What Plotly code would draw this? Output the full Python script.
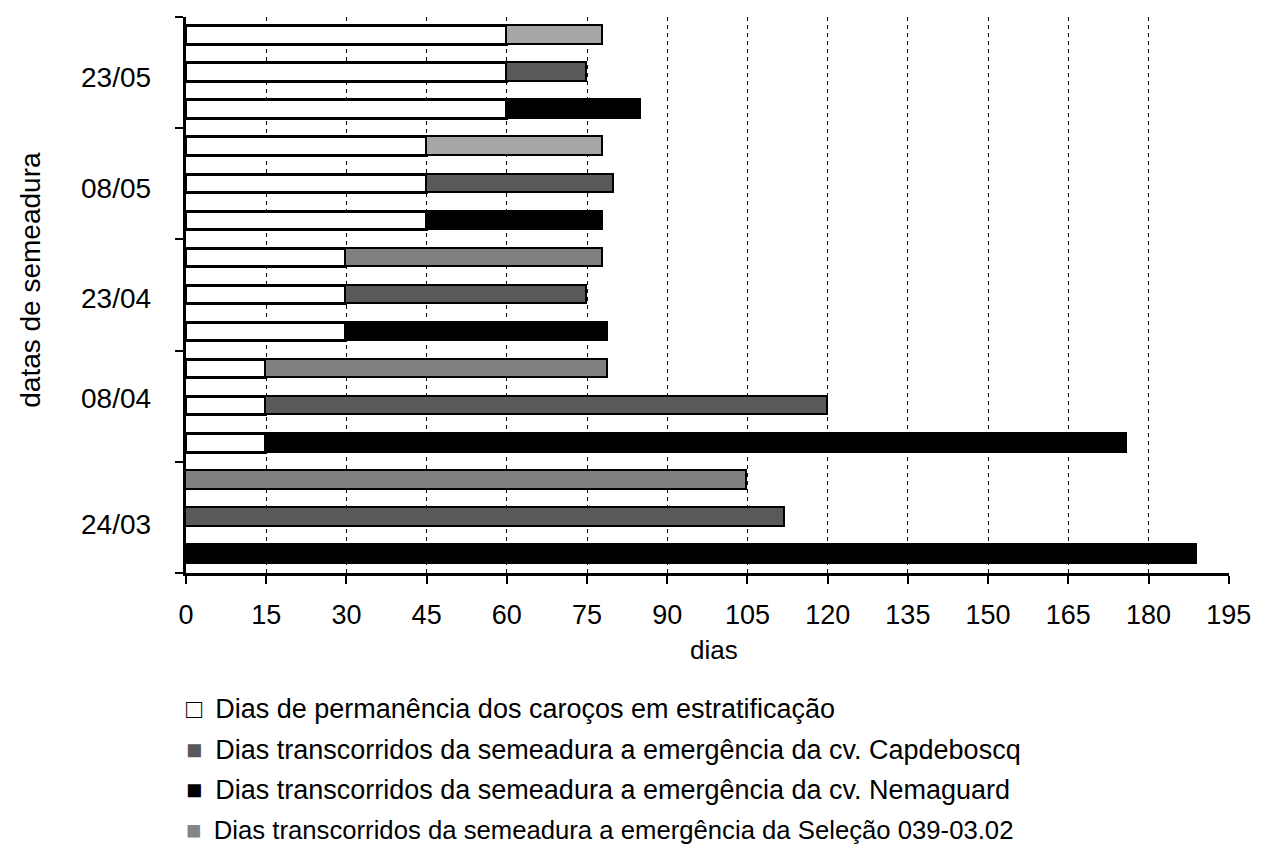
import plotly.graph_objects as go

# ---- data ----
dates = ["24/03", "08/04", "23/04", "08/05", "23/05"]          # sowing dates (bottom -> top)
strat_days = [0, 15, 30, 45, 60]                                # days in stratification
nemaguard = [189, 161, 49, 33, 25]                              # sowing -> emergence, cv. Nemaguard
capdeboscq = [112, 105, 45, 35, 15]                             # sowing -> emergence, cv. Capdeboscq
selecao = [105, 64, 48, 33, 18]                                 # sowing -> emergence, Seleção 039-03.02
x_ticks = list(range(0, 196, 15))

legend_labels = [
    "Dias de permanência dos caroços em estratificação",
    "Dias transcorridos da semeadura a emergência da cv. Capdeboscq",
    "Dias transcorridos da semeadura a emergência da cv. Nemaguard",
    "Dias transcorridos da semeadura a emergência da Seleção 039-03.02",
]

# ---- style ----
FONT = "Liberation Sans, Arial, sans-serif"
FS = 27
C_CAP = "#595959"
C_NEM = "#000000"
C_SEL = ["#808080", "#808080", "#808080", "#A6A6A6", "#A6A6A6"]
C_SEL_LEG = "#858585"

n = len(dates)
pos_nem = [3 * i for i in range(n)]
pos_cap = [3 * i + 1 for i in range(n)]
pos_sel = [3 * i + 2 for i in range(n)]

all_pos = pos_nem + pos_cap + pos_sel
all_strat = strat_days * 3

BW = 0.5
fig = go.Figure()
fig.add_trace(go.Bar(
    x=all_strat, y=all_pos, orientation="h", width=BW,
    marker=dict(color="white", line=dict(color="black", width=2.6)),
    showlegend=False, hoverinfo="skip",
))
fig.add_trace(go.Bar(
    x=capdeboscq, y=pos_cap, orientation="h", width=BW,
    marker=dict(color=C_CAP, line=dict(color="black", width=1.6)),
    showlegend=False,
))
fig.add_trace(go.Bar(
    x=nemaguard, y=pos_nem, orientation="h", width=BW,
    marker=dict(color=C_NEM, line=dict(color="black", width=1.6)),
    showlegend=False,
))
fig.add_trace(go.Bar(
    x=selecao, y=pos_sel, orientation="h", width=BW,
    marker=dict(color=C_SEL, line=dict(color="black", width=1.6)),
    showlegend=False,
))

annotations = []
# sowing-date labels
label_shift = [-7, 8, -3, -5, -5]
for i, d in enumerate(dates):
    annotations.append(dict(
        text=d, x=-0.032, xref="paper", xanchor="right",
        y=3 * i + 1, yref="y", yanchor="middle", yshift=label_shift[i],
        showarrow=False, font=dict(family=FONT, size=28, color="black"),
    ))
# axis titles
annotations.append(dict(
    text="datas de semeadura", x=(30 - 186) / 1048, xref="paper", xanchor="center",
    y=0.527, yref="paper", yanchor="middle", textangle=-90, showarrow=False,
    font=dict(family=FONT, size=28, color="black"),
))
annotations.append(dict(
    text="dias", x=(717 - 186) / 1048, xref="paper", xanchor="center",
    y=(573 - 650) / 556, yref="paper", yanchor="middle", showarrow=False,
    font=dict(family=FONT, size=26, color="black"),
))
# legend (text with square symbols)
symbols = [
    '<span style="color:#000000">□</span>',
    f'<span style="color:{C_CAP}">■</span>',
    f'<span style="color:{C_NEM}">■</span>',
    f'<span style="color:{C_SEL_LEG}">■</span>',
]
leg_y = [709, 750, 790, 830]
leg_fs = [FS, FS, FS, 25.7]
for s, lab, py, fs in zip(symbols, legend_labels, leg_y, leg_fs):
    annotations.append(dict(
        text=f"{s}\u2009 {lab}", x=(184 - 186) / 1048, xref="paper", xanchor="left",
        y=(573 - py) / 556, yref="paper", yanchor="middle", showarrow=False,
        font=dict(family=FONT, size=fs, color="black"),
    ))

fig.update_layout(
    width=1263, height=852,
    margin=dict(l=186, r=29, t=17, b=279),
    barmode="stack", bargap=0,
    plot_bgcolor="white", paper_bgcolor="white",
    font=dict(family=FONT, size=FS, color="black"),
    annotations=annotations,
    showlegend=False,
)
fig.update_xaxes(
    range=[0, 195.05], tickvals=x_ticks, ticktext=[str(v) for v in x_ticks],
    ticks="outside", ticklen=8, tickwidth=2, tickcolor="black",
    showline=True, linecolor="black", linewidth=2.5,
    showgrid=True, gridcolor="black", gridwidth=1, griddash="4px,4px",
    zeroline=False, ticklabelstandoff=8,
    tickfont=dict(family=FONT, size=FS, color="black"),
)
fig.update_yaxes(
    range=[-0.5, 3 * n - 0.5],
    tickvals=[3 * i - 0.5 for i in range(n + 1)], ticktext=[""] * (n + 1),
    ticks="outside", ticklen=8, tickwidth=2, tickcolor="black",
    showline=True, linecolor="black", linewidth=2.5,
    showgrid=False, zeroline=False,
)

# remove the default page margin so the figure fills the window exactly
fig.write_html(
    "out.html",
    config={"displayModeBar": False},
    post_script="document.body.style.margin='0';document.body.style.overflow='hidden';",
)
